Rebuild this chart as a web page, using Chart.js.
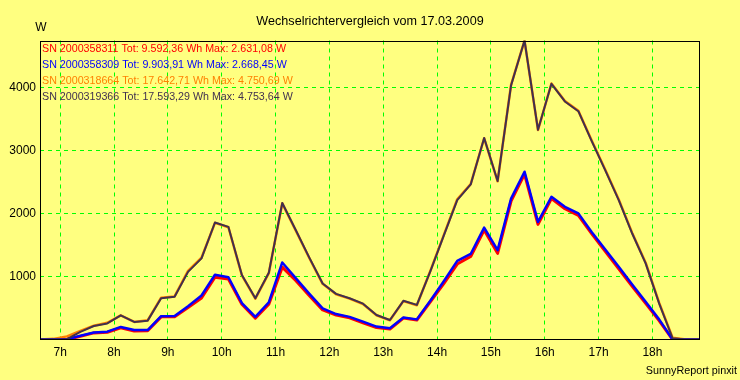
<!DOCTYPE html>
<html>
<head>
<meta charset="utf-8">
<script src="https://cdn.jsdelivr.net/npm/chart.js@4/dist/chart.umd.min.js"></script>
<style>
html,body{margin:0;padding:0;background:#ffff80;}
#wrap{width:740px;height:380px;position:relative;}
</style>
</head>
<body>
<div id="wrap"><canvas id="c" width="740" height="380"></canvas></div>
<script>
// ---- data (hours, 15-minute readings) ----
const times = [6.625,6.875,7.125,7.375,7.625,7.875,8.125,8.375,8.625,8.875,
  9.125,9.375,9.625,9.875,10.125,10.375,10.625,10.875,11.125,11.375,
  11.625,11.875,12.125,12.375,12.625,12.875,13.125,13.375,13.625,13.875,
  14.125,14.375,14.625,14.875,15.125,15.375,15.625,15.875,16.125,16.375,
  16.625,16.875,17.125,17.375,17.625,17.875,18.125,18.375,18.625,18.875];

const hourTicks = [7,8,9,10,11,12,13,14,15,16,17,18];
const wattTicks = [1000,2000,3000,4000];

// SN 2000358311 (red)
const sn2000358311 = [0,0,0,50,105,115,185,135,140,360,
  360,510,660,990,960,560,340,560,1150,940,
  700,470,390,345,265,190,165,340,310,600,
  890,1200,1320,1740,1370,2200,2631,1830,2240,2080,
  1975,1680,1400,1125,845,575,300,0,0,0];
// SN 2000358309 (blue)
const sn2000358309 = [0,0,5,60,110,125,200,150,150,370,
  375,530,700,1030,990,580,360,590,1225,975,
  730,495,405,360,285,205,178,350,320,615,
  925,1250,1360,1780,1420,2240,2668,1870,2270,2110,
  2005,1705,1430,1155,875,600,320,0,0,0];
// SN 2000318664 (orange)
const sn2000318664 = [0,10,50,135,220,265,385,280,305,665,
  685,1090,1300,1855,1785,1020,650,1055,2165,1735,
  1300,885,720,650,565,385,305,610,545,1090,
  1660,2230,2470,3200,2515,4050,4751,3330,4070,3790,
  3635,3160,2700,2225,1695,1220,585,30,0,0];
// SN 2000319366 (dark)
const sn2000319366 = [0,0,5,120,215,255,385,280,300,655,
  680,1075,1290,1860,1790,1025,655,1060,2170,1740,
  1305,890,725,655,570,390,310,615,550,1085,
  1650,2215,2465,3205,2520,4040,4754,3335,4065,3785,
  3630,3150,2690,2215,1685,1210,575,20,0,0];

const titleText = 'Wechselrichtervergleich vom 17.03.2009';
const unitText = 'W';
const footerText = 'SunnyReport pinxit';
const legendTexts = [
  'SN 2000358311 Tot: 9.592,36 Wh Max: 2.631,08 W',
  'SN 2000358309 Tot: 9.903,91 Wh Max: 2.668,45 W',
  'SN 2000318664 Tot: 17.642,71 Wh Max: 4.750,69 W',
  'SN 2000319366 Tot: 17.593,29 Wh Max: 4.753,64 W'
];
const seriesColors = ['#ff0000','#0000ff','#ff8000','#40304e'];

const FONT = '"Liberation Sans", Arial, sans-serif';

function pts(arr){ return times.map((t,i)=>({x:t,y:arr[i]})); }

const deco = {
  id:'deco',
  beforeDraw(chart){
    const ctx = chart.ctx;
    ctx.save();
    ctx.fillStyle = '#ffff80';
    ctx.fillRect(0,0,chart.width,chart.height);
    ctx.restore();
  },
  afterDraw(chart){
    const ctx = chart.ctx, a = chart.chartArea;
    ctx.save();
    ctx.strokeStyle = '#000';
    ctx.lineWidth = 1;
    ctx.strokeRect(Math.round(a.left)+0.5, Math.round(a.top)+0.5,
                   Math.round(a.right)-Math.round(a.left)-1, Math.round(a.bottom)-Math.round(a.top)-1);
    ctx.fillStyle = '#000';
    ctx.textBaseline = 'alphabetic';
    ctx.textAlign = 'center';
    ctx.font = '12.6px ' + FONT;
    ctx.fillText(titleText, 370, 25);
    ctx.font = '12px ' + FONT;
    ctx.fillText(unitText, 41, 31);
    ctx.textAlign = 'right';
    ctx.font = '10.8px ' + FONT;
    ctx.fillText(footerText, 737, 374);
    ctx.textAlign = 'left';
    ctx.textBaseline = 'middle';
    ctx.font = '10.7px ' + FONT;
    legendTexts.forEach((t,i)=>{
      ctx.fillStyle = seriesColors[i];
      ctx.fillText(t, 42, 49.5 + i*15.8);
    });
    ctx.restore();
  }
};

new Chart(document.getElementById('c'), {
  type:'line',
  data:{
    datasets:[
      {label:legendTexts[0], data:pts(sn2000358311), borderColor:seriesColors[0], borderWidth:3, order:3},
      {label:legendTexts[1], data:pts(sn2000358309), borderColor:seriesColors[1], borderWidth:2.5, order:1},
      {label:legendTexts[2], data:pts(sn2000318664), borderColor:seriesColors[2], borderWidth:2.5, order:2},
      {label:legendTexts[3], data:pts(sn2000319366), borderColor:seriesColors[3], borderWidth:2, order:0}
    ]
  },
  options:{
    responsive:false,
    animation:false,
    layout:{padding:{left:0,top:40.5,right:40.5,bottom:0}},
    elements:{
      point:{radius:0,hoverRadius:0},
      line:{tension:0,fill:false,borderJoinStyle:'round',borderCapStyle:'round'}
    },
    plugins:{legend:{display:false},tooltip:{enabled:false},title:{display:false}},
    scales:{
      x:{
        type:'linear', min:6.625, max:18.875,
        afterBuildTicks(s){ s.ticks = hourTicks.map(v=>({value:v})); },
        afterFit(s){ s.height = 40.5; },
        grid:{color:'#00ff00', lineWidth:1, drawTicks:false, borderDash:[4,4]},
        border:{display:false, dash:[4,4]},
        ticks:{color:'#000', font:{family:FONT,size:12}, padding:6, maxRotation:0,
               callback:(v)=>v+'h'}
      },
      y:{
        type:'linear', min:0, max:4754,
        afterBuildTicks(s){ s.ticks = wattTicks.map(v=>({value:v})); },
        afterFit(s){ s.width = 40; },
        grid:{color:'#00ff00', lineWidth:1, drawTicks:false, borderDash:[4,4]},
        border:{display:false, dash:[4,4]},
        ticks:{color:'#000', font:{family:FONT,size:12}, padding:4,
               callback:(v)=>String(v)}
      }
    }
  },
  plugins:[deco]
});
</script>
</body>
</html>
